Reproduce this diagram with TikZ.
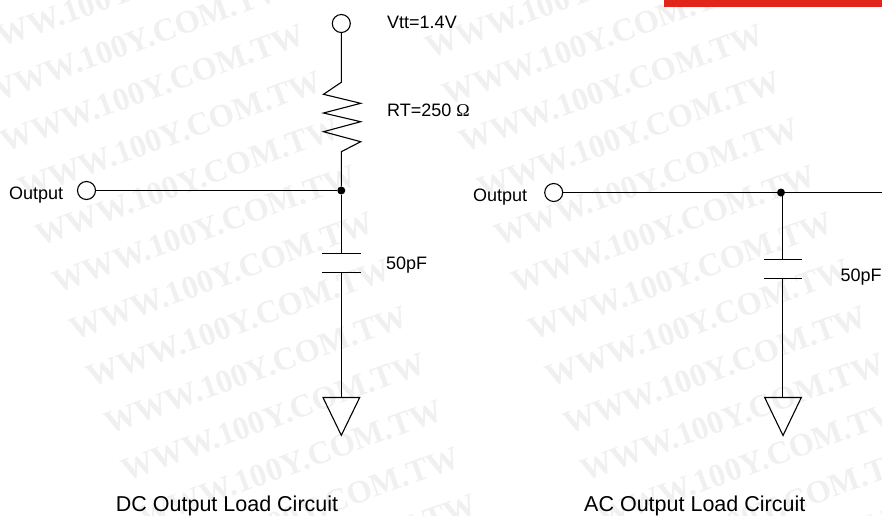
\documentclass[tikz,border=0pt]{standalone}
\usepackage{fontspec}
\setmainfont{Liberation Sans}
\newfontfamily\wmfont{Liberation Serif}
\definecolor{wmgray}{HTML}{F0F0F0}
\definecolor{barred}{HTML}{E0251B}
\tikzset{
  wire/.style={draw=black,line width=1.1pt},
  term/.style={circle,draw=black,fill=white,line width=1.1pt,minimum size=18pt,inner sep=0pt},
  junction/.style={circle,fill=black,minimum size=8pt,inner sep=0pt},
  lab/.style={anchor=base west,inner sep=0pt,font=\fontsize{18}{18}\selectfont},
  caption/.style={anchor=base west,inner sep=0pt,font=\fontsize{21.5}{22}\selectfont},
  wm/.style={anchor=base east,inner sep=0pt,rotate=20,text=wmgray,font=\wmfont\bfseries\fontsize{32.4}{33}\selectfont},
  gnd/.style={draw=black,line width=1.1pt,line join=miter,fill=none},
}
\begin{document}
\begin{tikzpicture}[x=1pt,y=-1pt]
\useasboundingbox (0,0) rectangle (882,515);
\clip (0,0) rectangle (882,515);
% watermark
\foreach \c in {0,1,2}{
 \foreach \k in {-2,...,11}{
  \node[wm] (wm\c\k) at ({307.4+459*\c+17.2*\k},{43+47*\k}) {WWW.100Y.COM.TW};
 }
}
\fill[barred] (664,0) rectangle (882,6.7);
% DC circuit
\node[term] (vtt) at (341.3,23.5) {};
\node[term] (outA) at (86.5,190.5) {};
\node[junction] (jA) at (341.3,190.5) {};
\coordinate (rtop) at (341.3,82.3);
\coordinate (rbot) at (341.3,151.7);
\coordinate (capAt) at (341.3,253.5);
\coordinate (capAb) at (341.3,272.5);
\coordinate (gndA) at (341.3,397.5);
\draw[wire] (vtt) -- (rtop) -- (323.5,94.3) -- (360.7,103.3) -- (323.5,113) -- (360.7,121.7) -- (323.5,131.7) -- (360.7,141.7) -- (rbot) -- (jA);
\draw[wire] (outA) -- (jA);
\draw[wire] (jA) -- (capAt);
\draw[wire] (322.3,253.5) -- (360.7,253.5);
\draw[wire] (322.3,272.5) -- (360.7,272.5);
\draw[wire] (capAb) -- (gndA);
\draw[gnd] (323,397.5) -- (359.7,397.5) -- (341.3,435.3) -- cycle;
\node[lab] (lvtt) at (387,28.5) {Vtt=1.4V};
\node[lab] (lrt) at (387,116.7) {RT=250 {\fontspec{Liberation Serif}Ω}};
\node[lab] (loutA) at (9,199) {Output};
\node[lab] (lcapA) at (386,269.7) {50pF};
\node[caption] (capA) at (115.7,511.5) {DC Output Load Circuit};
% AC circuit
\node[term] (outB) at (553.7,192.5) {};
\node[junction] (jB) at (781,192.5) {};
\coordinate (rightend) at (882,192.5);
\coordinate (jBdown) at (782.5,192.5);
\coordinate (capBt) at (782.5,259.5);
\coordinate (capBb) at (782.5,278.5);
\coordinate (gndB) at (782.5,397.5);
\draw[wire] (outB) -- (jB) -- (rightend);
\draw[wire] (jBdown) -- (capBt);
\draw[wire] (763.7,259.5) -- (802,259.5);
\draw[wire] (763.7,278.5) -- (802,278.5);
\draw[wire] (capBb) -- (gndB);
\draw[gnd] (764.7,397.5) -- (801.3,397.5) -- (783,435.5) -- cycle;
\node[lab] (loutB) at (473,201) {Output};
\node[lab] (lcapB) at (840.3,281.3) {50pF};
\node[caption] (capB) at (584,511.5) {AC Output Load Circuit};
\end{tikzpicture}
\end{document}
